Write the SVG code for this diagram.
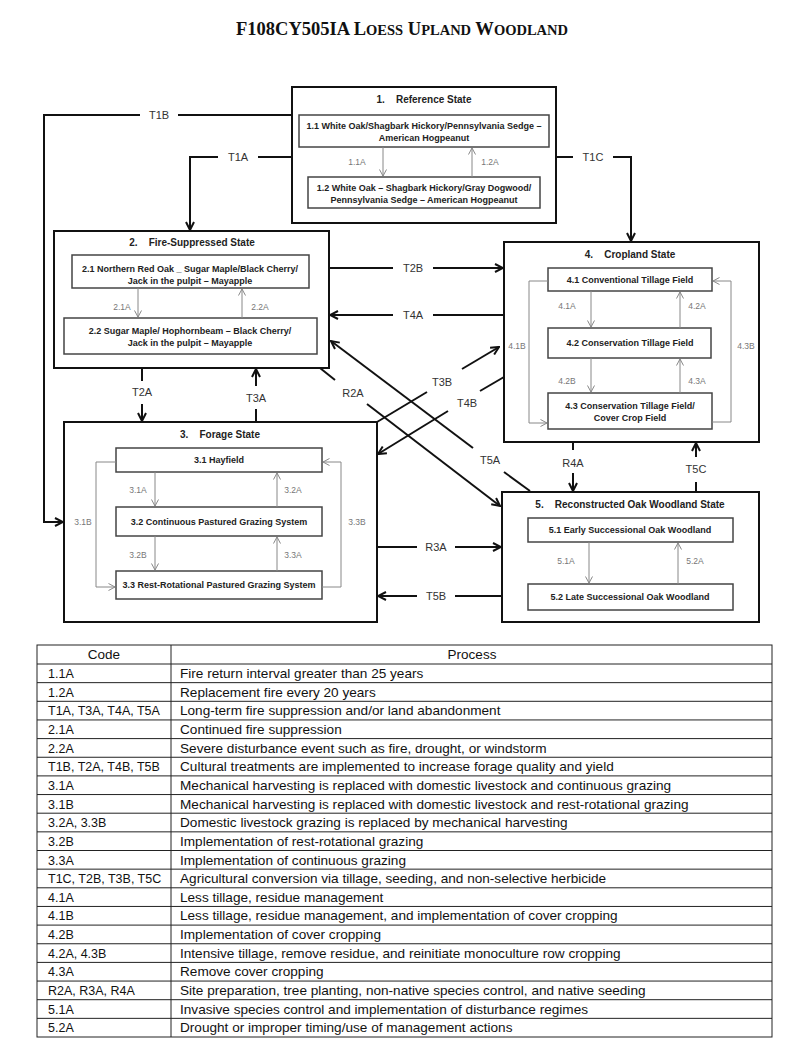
<svg xmlns="http://www.w3.org/2000/svg" width="800" height="1058" viewBox="0 0 800 1058">
<style>
.title{font-family:"Liberation Serif",serif;font-weight:bold;font-size:18.5px;fill:#111}
.sc{font-size:14.5px}
.outer{fill:#fff;stroke:#111;stroke-width:2}
.inner{fill:#fff;stroke:#444;stroke-width:1.5}
.st{font-family:"Liberation Sans",Arial,sans-serif;font-weight:bold;font-size:10px;fill:#222;text-anchor:middle;white-space:pre}
.it{font-family:"Liberation Sans",Arial,sans-serif;font-weight:bold;font-size:9px;fill:#222;text-anchor:middle}
.gl{font-family:"Liberation Sans",Arial,sans-serif;font-size:8.5px;fill:#777;text-anchor:middle}
.cl{font-family:"Liberation Sans",Arial,sans-serif;font-size:11px;fill:#333;text-anchor:middle}
.con{fill:none;stroke:#111;stroke-width:2}
.gc{fill:none;stroke:#888;stroke-width:1}
.tb{fill:none;stroke:#222;stroke-width:1}
.tc{font-family:"Liberation Sans",Arial,sans-serif;font-size:12.5px;fill:#111}
.tp{font-family:"Liberation Sans",Arial,sans-serif;font-size:13.6px;fill:#111}
.th{font-family:"Liberation Sans",Arial,sans-serif;font-size:13.5px;fill:#111;text-anchor:middle}
</style>
<defs>
<marker id="ab" viewBox="0 0 10 10" refX="9" refY="5" markerWidth="10" markerHeight="10" markerUnits="userSpaceOnUse" orient="auto">
<path d="M1,1 L9,5 L1,9" fill="none" stroke="#111" stroke-width="2"/>
</marker>
<marker id="ag" viewBox="0 0 8 8" refX="7.5" refY="4" markerWidth="8" markerHeight="8" markerUnits="userSpaceOnUse" orient="auto">
<path d="M1,0.5 L7.5,4 L1,7.5" fill="none" stroke="#888" stroke-width="1"/>
</marker>
</defs>
<rect width="800" height="1058" fill="#fff"/>

<text class="title" x="402" y="35" text-anchor="middle">F108CY505IA L<tspan class="sc">OESS</tspan> U<tspan class="sc">PLAND</tspan> W<tspan class="sc">OODLAND</tspan></text>

<g id="state1">
<rect class="outer" x="292" y="87" width="264" height="136"/>
<text class="st" x="424" y="103" xml:space="preserve">1.    Reference State</text>
<rect class="inner" x="299" y="115" width="250" height="32"/>
<text class="it" x="424" y="129">1.1 White Oak/Shagbark Hickory/Pennsylvania Sedge –</text>
<text class="it" x="424" y="141">American Hogpeanut</text>
<rect class="inner" x="308" y="177" width="232" height="31"/>
<text class="it" x="424" y="191">1.2 White Oak – Shagbark Hickory/Gray Dogwood/</text>
<text class="it" x="424" y="203">Pennsylvania Sedge – American Hogpeanut</text>
<path class="gc" d="M383,147 V176" marker-end="url(#ag)"/>
<path class="gc" d="M472,177 V148" marker-end="url(#ag)"/>
<text class="gl" x="357" y="165">1.1A</text>
<text class="gl" x="490" y="165">1.2A</text>
</g>

<g id="state2">
<rect class="outer" x="54" y="231" width="275" height="137"/>
<text class="st" x="192" y="246" xml:space="preserve">2.    Fire-Suppressed State</text>
<rect class="inner" x="72" y="255" width="237" height="33"/>
<text class="it" x="190" y="272">2.1 Northern Red Oak _ Sugar Maple/Black Cherry/</text>
<text class="it" x="190" y="284">Jack in the pulpit – Mayapple</text>
<rect class="inner" x="64" y="318" width="253" height="36"/>
<text class="it" x="190" y="334">2.2 Sugar Maple/ Hophornbeam – Black Cherry/</text>
<text class="it" x="190" y="346">Jack in the pulpit – Mayapple</text>
<path class="gc" d="M138,288 V317" marker-end="url(#ag)"/>
<path class="gc" d="M242,318 V289" marker-end="url(#ag)"/>
<text class="gl" x="122" y="310">2.1A</text>
<text class="gl" x="260" y="310">2.2A</text>
</g>

<g id="state3">
<rect class="outer" x="64" y="422" width="313" height="200"/>
<text class="st" x="220" y="438" xml:space="preserve">3.    Forage State</text>
<rect class="inner" x="116" y="448" width="206" height="24"/>
<text class="it" x="219" y="463">3.1 Hayfield</text>
<rect class="inner" x="116" y="507" width="206" height="29"/>
<text class="it" x="219" y="525">3.2 Continuous Pastured Grazing System</text>
<rect class="inner" x="116" y="571" width="206" height="28"/>
<text class="it" x="219" y="588">3.3 Rest-Rotational Pastured Grazing System</text>
<path class="gc" d="M155,472 V506" marker-end="url(#ag)"/>
<path class="gc" d="M277,507 V473" marker-end="url(#ag)"/>
<path class="gc" d="M155,536 V570" marker-end="url(#ag)"/>
<path class="gc" d="M277,571 V537" marker-end="url(#ag)"/>
<path class="gc" d="M116,462 H96 V587 H115" marker-end="url(#ag)"/>
<path class="gc" d="M322,587 H341 V462 H323" marker-end="url(#ag)"/>
<text class="gl" x="138" y="493">3.1A</text>
<text class="gl" x="293" y="493">3.2A</text>
<text class="gl" x="138" y="558">3.2B</text>
<text class="gl" x="293" y="558">3.3A</text>
<text class="gl" x="83" y="525">3.1B</text>
<text class="gl" x="357" y="525">3.3B</text>
</g>

<g id="state4">
<rect class="outer" x="504" y="242" width="255" height="200"/>
<text class="st" x="630" y="258" xml:space="preserve">4.    Cropland State</text>
<rect class="inner" x="548" y="268" width="164" height="23"/>
<text class="it" x="630" y="283">4.1 Conventional Tillage Field</text>
<rect class="inner" x="548" y="328" width="163" height="30"/>
<text class="it" x="630" y="346">4.2 Conservation Tillage Field</text>
<rect class="inner" x="548" y="393" width="164" height="36"/>
<text class="it" x="630" y="409">4.3 Conservation Tillage Field/</text>
<text class="it" x="630" y="421">Cover Crop Field</text>
<path class="gc" d="M591,291 V327" marker-end="url(#ag)"/>
<path class="gc" d="M680,328 V292" marker-end="url(#ag)"/>
<path class="gc" d="M591,358 V392" marker-end="url(#ag)"/>
<path class="gc" d="M680,393 V359" marker-end="url(#ag)"/>
<path class="gc" d="M548,281 H529 V423 H547" marker-end="url(#ag)"/>
<path class="gc" d="M712,422 H731 V281 H713" marker-end="url(#ag)"/>
<text class="gl" x="567" y="309">4.1A</text>
<text class="gl" x="697" y="309">4.2A</text>
<text class="gl" x="567" y="384">4.2B</text>
<text class="gl" x="697" y="384">4.3A</text>
<text class="gl" x="517" y="349">4.1B</text>
<text class="gl" x="746" y="349">4.3B</text>
</g>

<g id="state5">
<rect class="outer" x="502" y="492" width="257" height="130"/>
<text class="st" x="630" y="508" xml:space="preserve">5.    Reconstructed Oak Woodland State</text>
<rect class="inner" x="528" y="518" width="205" height="24"/>
<text class="it" x="630" y="533">5.1 Early Successional Oak Woodland</text>
<rect class="inner" x="528" y="584" width="205" height="26"/>
<text class="it" x="630" y="600">5.2 Late Successional Oak Woodland</text>
<path class="gc" d="M589,542 V583" marker-end="url(#ag)"/>
<path class="gc" d="M678,584 V543" marker-end="url(#ag)"/>
<text class="gl" x="566" y="564">5.1A</text>
<text class="gl" x="695" y="564">5.2A</text>
</g>

<g id="connectors">
<path class="con" d="M292,115 H178"/>
<path class="con" d="M140,115 H44 V522 H63" marker-end="url(#ab)"/>
<text class="cl" x="159" y="119">T1B</text>
<path class="con" d="M292,157 H258"/>
<path class="con" d="M218,157 H190 V230" marker-end="url(#ab)"/>
<text class="cl" x="238" y="161">T1A</text>
<path class="con" d="M556,157 H573"/>
<path class="con" d="M613,157 H631 V241" marker-end="url(#ab)"/>
<text class="cl" x="593" y="161">T1C</text>
<path class="con" d="M329,268 H393"/>
<path class="con" d="M433,268 H503" marker-end="url(#ab)"/>
<text class="cl" x="413" y="272">T2B</text>
<path class="con" d="M504,315 H433"/>
<path class="con" d="M393,315 H330" marker-end="url(#ab)"/>
<text class="cl" x="413" y="319">T4A</text>
<path class="con" d="M142,368 V381"/>
<path class="con" d="M142,404 V421" marker-end="url(#ab)"/>
<text class="cl" x="142" y="396">T2A</text>
<path class="con" d="M256,422 V409"/>
<path class="con" d="M256,386 V369" marker-end="url(#ab)"/>
<text class="cl" x="256" y="402">T3A</text>
<path class="con" d="M377,422 L427,392"/>
<path class="con" d="M462,369 L499,347" marker-end="url(#ab)"/>
<text class="cl" x="442" y="386">T3B</text>
<path class="con" d="M504,377 L480,391"/>
<path class="con" d="M448,411 L378,454" marker-end="url(#ab)"/>
<text class="cl" x="467" y="407">T4B</text>
<path class="con" d="M320,368 L335,380"/>
<path class="con" d="M367,404 L500,506" marker-end="url(#ab)"/>
<text class="cl" x="353" y="397">R2A</text>
<path class="con" d="M530,491 L504,472"/>
<path class="con" d="M473,448 L331,341" marker-end="url(#ab)"/>
<text class="cl" x="490" y="464">T5A</text>
<path class="con" d="M573,442 V450"/>
<path class="con" d="M573,473 V491" marker-end="url(#ab)"/>
<text class="cl" x="573" y="467">R4A</text>
<path class="con" d="M696,492 V482"/>
<path class="con" d="M696,457 V443" marker-end="url(#ab)"/>
<text class="cl" x="696" y="473">T5C</text>
<path class="con" d="M377,547 H417"/>
<path class="con" d="M455,547 H501" marker-end="url(#ab)"/>
<text class="cl" x="436" y="551">R3A</text>
<path class="con" d="M502,596 H455"/>
<path class="con" d="M417,596 H378" marker-end="url(#ab)"/>
<text class="cl" x="436" y="600">T5B</text>
</g>

<g id="table">
<rect class="tb" x="37" y="645" width="735" height="392"/>
<path class="tb" d="M171,645 V1037 M37,664 H772 M37,682.65 H772 M37,701.3 H772 M37,719.95 H772 M37,738.6 H772 M37,757.25 H772 M37,775.9 H772 M37,794.55 H772 M37,813.2 H772 M37,831.85 H772 M37,850.5 H772 M37,869.15 H772 M37,887.8 H772 M37,906.45 H772 M37,925.1 H772 M37,943.75 H772 M37,962.4 H772 M37,981.05 H772 M37,999.7 H772 M37,1018.35 H772"/>
<text class="th" x="104" y="659">Code</text>
<text class="th" x="472" y="659">Process</text>
<g class="tc">
<text x="48" y="678">1.1A</text>
<text x="48" y="696.65">1.2A</text>
<text x="48" y="715.3">T1A, T3A, T4A, T5A</text>
<text x="48" y="733.95">2.1A</text>
<text x="48" y="752.6">2.2A</text>
<text x="48" y="771.25">T1B, T2A, T4B, T5B</text>
<text x="48" y="789.9">3.1A</text>
<text x="48" y="808.55">3.1B</text>
<text x="48" y="827.2">3.2A, 3.3B</text>
<text x="48" y="845.85">3.2B</text>
<text x="48" y="864.5">3.3A</text>
<text x="48" y="883.15">T1C, T2B, T3B, T5C</text>
<text x="48" y="901.8">4.1A</text>
<text x="48" y="920.45">4.1B</text>
<text x="48" y="939.1">4.2B</text>
<text x="48" y="957.75">4.2A, 4.3B</text>
<text x="48" y="976.4">4.3A</text>
<text x="48" y="995.05">R2A, R3A, R4A</text>
<text x="48" y="1013.7">5.1A</text>
<text x="48" y="1032.35">5.2A</text>
</g>
<g class="tp">
<text x="180" y="678">Fire return interval greater than 25 years</text>
<text x="180" y="696.65">Replacement fire every 20 years</text>
<text x="180" y="715.3">Long-term fire suppression and/or land abandonment</text>
<text x="180" y="733.95">Continued fire suppression</text>
<text x="180" y="752.6">Severe disturbance event such as fire, drought, or windstorm</text>
<text x="180" y="771.25">Cultural treatments are implemented to increase forage quality and yield</text>
<text x="180" y="789.9">Mechanical harvesting is replaced with domestic livestock and continuous grazing</text>
<text x="180" y="808.55">Mechanical harvesting is replaced with domestic livestock and rest-rotational grazing</text>
<text x="180" y="827.2">Domestic livestock grazing is replaced by mechanical harvesting</text>
<text x="180" y="845.85">Implementation of rest-rotational grazing</text>
<text x="180" y="864.5">Implementation of continuous grazing</text>
<text x="180" y="883.15">Agricultural conversion via tillage, seeding, and non-selective herbicide</text>
<text x="180" y="901.8">Less tillage, residue management</text>
<text x="180" y="920.45">Less tillage, residue management, and implementation of cover cropping</text>
<text x="180" y="939.1">Implementation of cover cropping</text>
<text x="180" y="957.75">Intensive tillage, remove residue, and reinitiate monoculture row cropping</text>
<text x="180" y="976.4">Remove cover cropping</text>
<text x="180" y="995.05">Site preparation, tree planting, non-native species control, and native seeding</text>
<text x="180" y="1013.7">Invasive species control and implementation of disturbance regimes</text>
<text x="180" y="1032.35">Drought or improper timing/use of management actions</text>
</g>
</g>
</svg>
